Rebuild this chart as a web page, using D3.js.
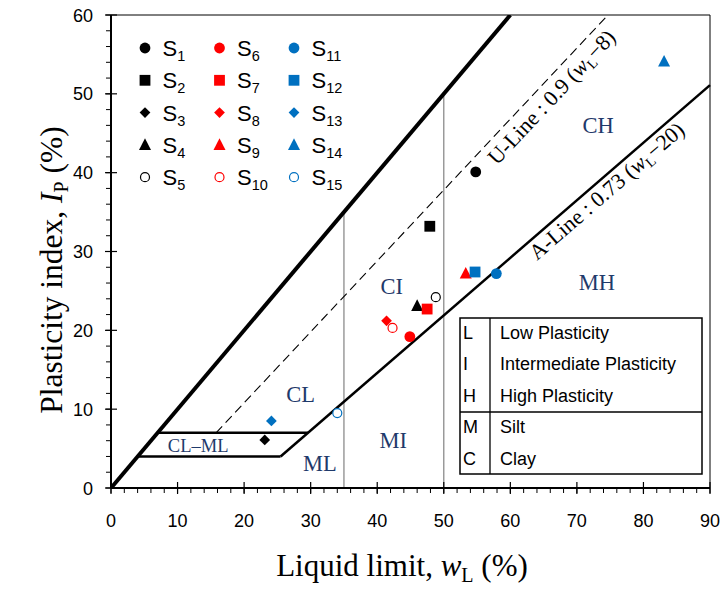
<!DOCTYPE html>
<html>
<head>
<meta charset="utf-8">
<script src="https://cdn.jsdelivr.net/npm/d3@7"></script>
<style>
  html, body { margin: 0; padding: 0; background: #fff; }
  svg { display: block; }
</style>
</head>
<body>
<svg id="chart" width="723" height="590"></svg>
<script>
// Sample identifiers and measured Atterberg limits
const sampleIds = ["S1","S2","S3","S4","S5","S6","S7","S8","S9","S10","S11","S12","S13","S14","S15"];
const liquidLimit = [54.8, 47.9, 23.1, 46.0, 48.8, 44.9, 47.5, 41.4, 53.3, 42.3, 57.9, 54.7, 24.1, 83.1, 34.0];
const plasticityIndex = [40.1, 33.2, 6.1, 23.1, 24.2, 19.2, 22.7, 21.2, 27.2, 20.3, 27.2, 27.4, 8.5, 54.1, 9.5];

const xTickValues = [0, 10, 20, 30, 40, 50, 60, 70, 80, 90];
const yTickValues = [0, 10, 20, 30, 40, 50, 60];

// Zone labels placed at (wL, Ip)
const zoneNames = ["CH", "MH", "CI", "CL", "ML", "MI", "CL–ML"];
const zoneWL = [73.2, 73.0, 42.2, 28.5, 31.4, 42.4, 13.1];
const zoneIP = [45.0, 25.1, 24.6, 10.9, 2.2, 5.1, 4.6];

// Key for the classification letters
const keyLetters = ["L", "I", "H", "M", "C"];
const keyMeanings = ["Low Plasticity", "Intermediate Plasticity", "High Plasticity", "Silt", "Clay"];

(function () {
const svg = d3.select("#chart");
const pL = 111, pR = 710, pT = 15, pB = 488;

const x = d3.scaleLinear().domain([0, 90]).range([pL, pR]);
const y = d3.scaleLinear().domain([0, 60]).range([pB, pT]);

const groupColors = ["#000000", "#ff0000", "#0070c0"];
const navy = "#1f3a6b";
const serif = "'Liberation Serif', 'DejaVu Serif', serif";
const sans = "'Liberation Sans', Arial, sans-serif";

// Clip region for chart lines
svg.append("defs").append("clipPath").attr("id", "plotClip")
  .append("rect").attr("x", pL).attr("y", pT).attr("width", pR - pL + 3).attr("height", pB - pT);

// Frame: thin top and right borders
svg.append("line").attr("x1", pL).attr("x2", pR).attr("y1", pT).attr("y2", pT)
  .attr("stroke", "#000").attr("stroke-width", 1);
svg.append("line").attr("x1", pR).attr("x2", pR).attr("y1", pT).attr("y2", pB)
  .attr("stroke", "#000").attr("stroke-width", 1);

const plot = svg.append("g").attr("clip-path", "url(#plotClip)");
const line = d3.line().x(d => x(d[0])).y(d => y(d[1]));

// Vertical boundaries at wL = 35 and wL = 50 (up to the Ip = wL limit)
[35, 50].forEach(v => {
  plot.append("path").attr("d", line([[v, 0], [v, v]]))
    .attr("stroke", "#8c8c8c").attr("stroke-width", 1.3).attr("fill", "none");
});

// Upper limit Ip = wL
plot.append("path").attr("d", line([[0, 0], [60, 60]]))
  .attr("stroke", "#000").attr("stroke-width", 4).attr("fill", "none");

// U-line: Ip = 0.9 (wL - 8)
plot.append("path").attr("d", line([[8 + 7 / 0.9, 7], [8 + 60 / 0.9, 60]]))
  .attr("stroke", "#000").attr("stroke-width", 1.1).attr("stroke-dasharray", "9,5").attr("fill", "none");

// A-line: Ip = 0.73 (wL - 20), starting at Ip = 4
const aLine = w => 0.73 * (w - 20);
const aStart = 20 + 4 / 0.73;
plot.append("path").attr("d", line([[aStart, 4], [90, aLine(90)]]))
  .attr("stroke", "#000").attr("stroke-width", 2.5).attr("fill", "none");

// CL–ML band between Ip = 4 and Ip = 7
plot.append("path").attr("d", line([[4, 4], [aStart, 4]]))
  .attr("stroke", "#000").attr("stroke-width", 2.5).attr("fill", "none");
plot.append("path").attr("d", line([[7, 7], [20 + 7 / 0.73, 7]]))
  .attr("stroke", "#000").attr("stroke-width", 2.5).attr("fill", "none");

// Axes
const xMinor = d3.range(0, 91, 2);
const yMinor = d3.range(0, 61, 2);
const axisG = svg.append("g");
axisG.selectAll(".xminor").data(xMinor).join("line")
  .attr("x1", d => x(d)).attr("x2", d => x(d)).attr("y1", pB).attr("y2", pB + 5)
  .attr("stroke", "#000").attr("stroke-width", 1);
axisG.selectAll(".xmajor").data(xTickValues).join("line")
  .attr("x1", d => x(d)).attr("x2", d => x(d)).attr("y1", pB - 6).attr("y2", pB + 6)
  .attr("stroke", "#000").attr("stroke-width", 1.2);
axisG.selectAll(".yminor").data(yMinor).join("line")
  .attr("x1", pL - 5).attr("x2", pL).attr("y1", d => y(d)).attr("y2", d => y(d))
  .attr("stroke", "#000").attr("stroke-width", 1);
axisG.selectAll(".ymajor").data(yTickValues).join("line")
  .attr("x1", pL - 6).attr("x2", pL + 6).attr("y1", d => y(d)).attr("y2", d => y(d))
  .attr("stroke", "#000").attr("stroke-width", 1.2);
axisG.append("line").attr("x1", pL).attr("x2", pR).attr("y1", pB).attr("y2", pB)
  .attr("stroke", "#000").attr("stroke-width", 2);
axisG.append("line").attr("x1", pL).attr("x2", pL).attr("y1", pT).attr("y2", pB)
  .attr("stroke", "#000").attr("stroke-width", 2);

axisG.selectAll(".xlab").data(xTickValues).join("text")
  .attr("x", d => x(d)).attr("y", pB + 39).attr("text-anchor", "middle")
  .attr("font-family", sans).attr("font-size", 18).text(d => d);
axisG.selectAll(".ylab").data(yTickValues).join("text")
  .attr("x", pL - 18).attr("y", d => y(d) + 6.5).attr("text-anchor", "end")
  .attr("font-family", sans).attr("font-size", 18).text(d => d);

// Axis titles
const xt = svg.append("text").attr("x", 402).attr("y", 576).attr("text-anchor", "middle")
  .attr("font-family", serif).attr("font-size", 31);
xt.append("tspan").text("Liquid limit, ");
xt.append("tspan").attr("font-style", "italic").text("w");
xt.append("tspan").attr("font-size", 20).attr("dy", 6).text("L");
xt.append("tspan").attr("dy", -6).text(" (%)");

const yt = svg.append("text").attr("transform", "translate(62,270) rotate(-90)")
  .attr("text-anchor", "middle").attr("font-family", serif).attr("font-size", 31.5);
yt.append("tspan").text("Plasticity index, ");
yt.append("tspan").attr("font-style", "italic").text("I");
yt.append("tspan").attr("font-size", 20).attr("dy", 6).text("P");
yt.append("tspan").attr("dy", -6).text(" (%)");

// Zone labels
svg.selectAll(".zone").data(zoneNames).join("text")
  .attr("x", (d, i) => x(zoneWL[i])).attr("y", (d, i) => y(zoneIP[i]))
  .attr("text-anchor", "middle").attr("font-family", serif)
  .attr("font-size", d => d === "CL–ML" ? 18.5 : 22.5).attr("fill", navy).text(d => d);

// Rotated line labels
function slopeAngle(k) {
  const dx = x(10) - x(0), dy = y(0) - y(10 * k);
  return -Math.atan2(dy, dx) * 180 / Math.PI;
}
function lineLabel(wl, ip, k, parts) {
  const t = svg.append("text")
    .attr("transform", `translate(${x(wl)},${y(ip)}) rotate(${slopeAngle(k)})`)
    .attr("font-family", serif).attr("font-size", 22);
  t.append("tspan").text(parts[0]);
  t.append("tspan").attr("font-style", "italic").text("w");
  t.append("tspan").attr("font-size", 14).attr("dy", 4).text("L");
  t.append("tspan").attr("dy", -4).text(parts[1]);
}
lineLabel(58.0, 40.85, 0.9, ["U-Line : 0.9 (", "−8)"]);
lineLabel(64.0, 28.8, 0.73, ["A-Line : 0.73 (", "−20)"]);

// Marker shapes by position within each colour group
function drawMarker(g, i) {
  const col = groupColors[Math.floor(i / 5)];
  const s = i % 5;
  if (s === 0) {
    g.append("circle").attr("r", 5.4).attr("fill", col);
  } else if (s === 1) {
    g.append("rect").attr("x", -5.4).attr("y", -5.4).attr("width", 10.8).attr("height", 10.8).attr("fill", col);
  } else if (s === 2) {
    g.append("rect").attr("x", -3.8).attr("y", -3.8).attr("width", 7.6).attr("height", 7.6)
      .attr("transform", "rotate(45)").attr("fill", col);
  } else if (s === 3) {
    g.append("path").attr("d", "M0,-6.6L6,5L-6,5Z").attr("fill", col);
  } else {
    g.append("circle").attr("r", 4.5).attr("fill", "#fff").attr("stroke", col).attr("stroke-width", 1.2);
  }
}

// Data points
sampleIds.forEach((id, i) => {
  const g = svg.append("g").attr("transform", `translate(${x(liquidLimit[i])},${y(plasticityIndex[i])})`);
  drawMarker(g, i);
});

// Legend grid: 3 columns x 5 rows
sampleIds.forEach((id, i) => {
  const col = Math.floor(i / 5), row = i % 5;
  const lx = 145 + col * 74.5, ly = 48 + row * 32.3;
  const g = svg.append("g").attr("transform", `translate(${lx},${ly})`);
  drawMarker(g, i);
  const t = g.append("text").attr("x", 17.5).attr("y", 8).attr("font-family", sans).attr("font-size", 22);
  t.append("tspan").text("S");
  t.append("tspan").attr("font-size", 14.5).attr("dy", 5).text(id.slice(1));
});

// Classification key table
const kx = 460, ky = 318, kw = 242, kh = 156, rowH = 31.4;
const key = svg.append("g");
key.append("rect").attr("x", kx).attr("y", ky).attr("width", kw).attr("height", kh)
  .attr("fill", "#fff").attr("stroke", "#000").attr("stroke-width", 1.5);
key.append("line").attr("x1", kx + 30).attr("x2", kx + 30).attr("y1", ky).attr("y2", ky + kh)
  .attr("stroke", "#000").attr("stroke-width", 1.3);
key.append("line").attr("x1", kx).attr("x2", kx + kw).attr("y1", ky + 94).attr("y2", ky + 94)
  .attr("stroke", "#000").attr("stroke-width", 1.5);
keyLetters.forEach((l, i) => {
  const yy = ky + 21 + i * rowH;
  key.append("text").attr("x", kx + 3).attr("y", yy).attr("font-family", sans).attr("font-size", 18).text(l);
  key.append("text").attr("x", kx + 40).attr("y", yy).attr("font-family", sans).attr("font-size", 18).text(keyMeanings[i]);
});
})();
</script>
</body>
</html>
